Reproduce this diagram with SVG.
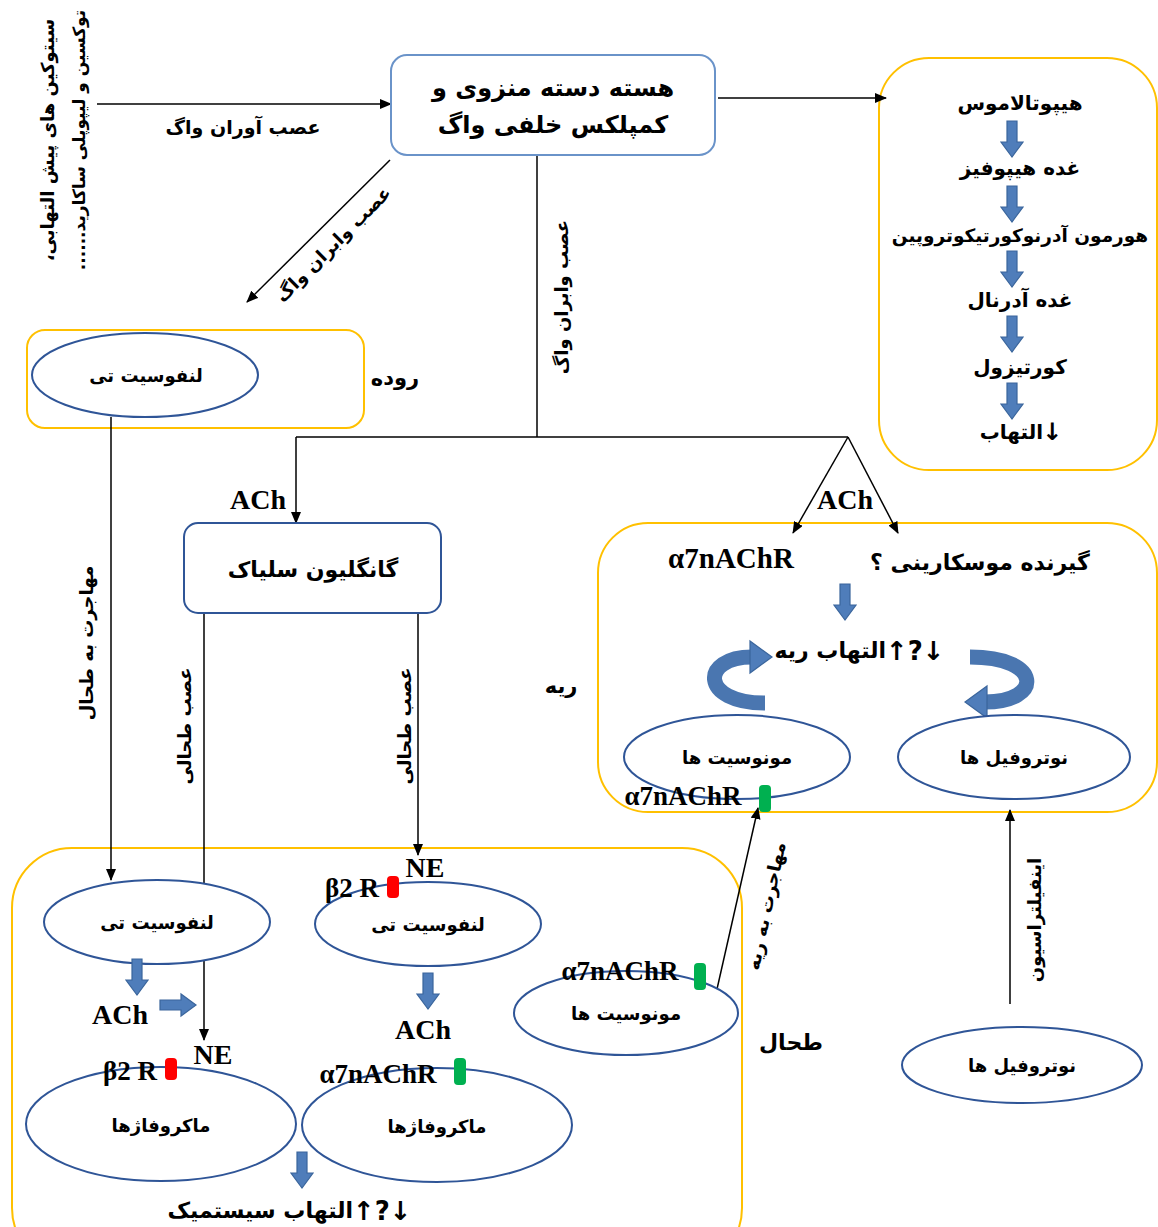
<svg xmlns="http://www.w3.org/2000/svg" width="1158" height="1227" viewBox="0 0 1158 1227">
<style>
.fa{font-family:"DejaVu Sans",sans-serif;font-weight:bold;fill:#000;text-anchor:middle;direction:rtl}
.fe{font-family:"DejaVu Sans",sans-serif;font-weight:bold;fill:#000;text-anchor:end;direction:ltr}
.sym{font-family:"DejaVu Sans",sans-serif;font-weight:bold;fill:#000;text-anchor:start;direction:ltr}
.lat{font-family:"Liberation Serif",serif;font-weight:bold;fill:#000;text-anchor:middle}
.yel{fill:none;stroke:#ffc000;stroke-width:2}
.cell{fill:#fff;stroke:#2f5597;stroke-width:2}
.nodebox{fill:#fff;stroke:#2f5597;stroke-width:2}
.topbox{fill:#fff;stroke:#6a93c9;stroke-width:2}
.ln{fill:none;stroke:#000;stroke-width:1.5}
.arw{marker-end:url(#ah)}
.blk{fill:#4f7dba;stroke:#3a659c;stroke-width:1.2}
.rib{fill:none;stroke:#4a76b0;stroke-width:15}
.red{fill:#ff0000}
.grn{fill:#00b050}
</style>
<defs>
<marker id="ah" markerWidth="12" markerHeight="10" refX="11" refY="5" orient="auto" markerUnits="userSpaceOnUse">
<path d="M0,0 L12,5 L0,10 Z" fill="#000"/>
</marker>
<path id="bdown" d="M-5,0 H5 V21 H11 L0,36 L-11,21 H-5 Z"/>
</defs>

<!-- containers -->
<g id="hpa-region"><rect class="yel" x="879" y="58" width="278" height="412" rx="50"/></g>
<g id="gut-region"><rect class="yel" x="27" y="330" width="337" height="98" rx="18"/>
<text class="fa" x="395" y="385" font-size="21">روده</text></g>
<g id="lung-region"><rect class="yel" x="598" y="523" width="559" height="289" rx="50"/>
<text class="fa" x="561" y="693" font-size="21">ریه</text></g>
<g id="spleen-region"><rect class="yel" x="12" y="848" width="730" height="420" rx="60"/>
<text class="fa" x="791" y="1050" font-size="22">طحال</text></g>

<!-- connectors -->
<g id="connectors">
<line class="ln arw" x1="97" y1="104" x2="391" y2="104"/>
<line class="ln arw" x1="718" y1="98" x2="886" y2="98"/>
<line class="ln arw" x1="390" y1="160" x2="247" y2="302"/>
<line class="ln" x1="537" y1="155" x2="537" y2="437"/>
<line class="ln" x1="296" y1="437" x2="848" y2="437"/>
<line class="ln arw" x1="296" y1="437" x2="296" y2="523"/>
<line class="ln arw" x1="848" y1="437" x2="793" y2="533"/>
<line class="ln arw" x1="848" y1="437" x2="898" y2="533"/>
<line class="ln arw" x1="111" y1="417" x2="111" y2="880"/>
<line class="ln arw" x1="204" y1="613" x2="204" y2="1040"/>
<line class="ln arw" x1="418" y1="613" x2="418" y2="855"/>
<line class="ln arw" x1="710" y1="1020" x2="758" y2="808"/>
<line class="ln arw" x1="1010" y1="1004" x2="1010" y2="810"/>
</g>

<!-- connector labels -->
<g id="labels">
<text class="fa" font-size="18" transform="translate(47,140) rotate(-90)" dominant-baseline="central">سیتوکین های پیش التهابی،</text>
<text class="fa" font-size="17" transform="translate(79,140) rotate(-90)" dominant-baseline="central">توکسین و لیپوپلی ساکارید......</text>
<text class="fa" x="243" y="134" font-size="19">عصب آوران واگ</text>
<text class="fa" font-size="18" transform="translate(333,244) rotate(-45)" dominant-baseline="central">عصب وابران واگ</text>
<text class="fa" font-size="18" transform="translate(561,297) rotate(-90)" dominant-baseline="central">عصب وابران واگ</text>
<text class="lat" x="258" y="509" font-size="28">ACh</text>
<text class="lat" x="845" y="509" font-size="28">ACh</text>
<text class="fa" font-size="18" transform="translate(86,643) rotate(-90)" dominant-baseline="central">مهاجرت به طحال</text>
<text class="fa" font-size="18" transform="translate(184,726) rotate(-90)" dominant-baseline="central">عصب طحالی</text>
<text class="fa" font-size="18" transform="translate(404,726) rotate(-90)" dominant-baseline="central">عصب طحالی</text>
<text class="fa" font-size="18" transform="translate(766,906) rotate(-78)" dominant-baseline="central">مهاجرت به ریه</text>
<text class="fa" font-size="18" transform="translate(1034,920) rotate(-90)" dominant-baseline="central">اینفیلتراسیون</text>
</g>

<!-- top node -->
<g id="node-nts">
<rect class="topbox" x="391" y="55" width="324" height="100" rx="16"/>
<text class="fa" x="553" y="96" font-size="24">هسته دسته منزوی و</text>
<text class="fa" x="553" y="133" font-size="24">کمپلکس خلفی واگ</text>
</g>

<!-- HPA chain -->
<g id="node-hpa">
<text class="fa" x="1020" y="110" font-size="20">هیپوتالاموس</text>
<use href="#bdown" class="blk" x="1012" y="121"/>
<text class="fa" x="1020" y="175" font-size="20">غده هیپوفیز</text>
<use href="#bdown" class="blk" x="1012" y="186"/>
<text class="fa" x="1020" y="242" font-size="18.5">هورمون آدرنوکورتیکوتروپین</text>
<use href="#bdown" class="blk" x="1012" y="251"/>
<text class="fa" x="1020" y="307" font-size="20">غده آدرنال</text>
<use href="#bdown" class="blk" x="1012" y="316"/>
<text class="fa" x="1020" y="374" font-size="20">کورتیزول</text>
<use href="#bdown" class="blk" x="1012" y="383"/>
<text class="fe" x="1043" y="439" font-size="20">التهاب</text>
<text class="sym" x="1042" y="440" font-size="24">↓</text>
</g>

<!-- gut -->
<g id="node-gut-tcell">
<ellipse class="cell" cx="145" cy="375" rx="113" ry="42"/>
<text class="fa" x="146" y="382" font-size="18">لنفوسیت تی</text>
</g>

<!-- celiac ganglion -->
<g id="node-celiac">
<rect class="nodebox" x="184" y="523" width="257" height="90" rx="14"/>
<text class="fa" x="313" y="577" font-size="22">گانگلیون سلیاک</text>
</g>

<!-- lung -->
<g id="node-lung">
<text class="lat" x="731" y="568" font-size="29">α7nAChR</text>
<text class="fa" x="980" y="570" font-size="22">گیرنده موسکارینی ؟</text>
<use href="#bdown" class="blk" x="845" y="584"/>
<text class="fe" x="886" y="658" font-size="22">التهاب ریه</text>
<text class="sym" x="886" y="660" font-size="26">↑?↓</text>
<path class="rib" d="M765,703 C700,703 700,657 752,657"/>
<path class="blk" d="M750,641 L772,657 L750,673 Z"/>
<path class="rib" d="M970,657 C1043,657 1043,702 985,702"/>
<path class="blk" d="M987,686 L965,702 L987,718 Z"/>
</g>
<g id="node-lung-monocytes">
<ellipse class="cell" cx="737" cy="757" rx="113" ry="42"/>
<text class="fa" x="737" y="764" font-size="18">مونوسیت ها</text>
<text class="lat" x="683" y="805" font-size="27">α7nAChR</text>
<rect class="grn" x="759" y="785" width="12" height="27" rx="4"/>
</g>
<g id="node-lung-neutrophils">
<ellipse class="cell" cx="1014" cy="757" rx="116" ry="42"/>
<text class="fa" x="1014" y="764" font-size="18">نوتروفیل ها</text>
</g>

<!-- spleen -->
<g id="node-spleen-tcell1">
<ellipse class="cell" cx="157" cy="922" rx="113" ry="42"/>
<text class="fa" x="157" y="929" font-size="18">لنفوسیت تی</text>
</g>
<g id="node-spleen-tcell2">
<ellipse class="cell" cx="428" cy="924" rx="113" ry="42"/>
<text class="fa" x="428" y="931" font-size="18">لنفوسیت تی</text>
<text class="lat" x="352" y="897" font-size="27">β2 R</text>
<rect class="red" x="387" y="876" width="12" height="22" rx="4"/>
<text class="lat" x="425" y="877" font-size="28">NE</text>
</g>
<g id="node-spleen-ach1">
<use href="#bdown" class="blk" x="137" y="959"/>
<text class="lat" x="120" y="1024" font-size="28">ACh</text>
<use href="#bdown" class="blk" transform="translate(160,1005) rotate(-90)"/>
<text class="lat" x="213" y="1064" font-size="28">NE</text>
</g>
<g id="node-spleen-macro1">
<ellipse class="cell" cx="161" cy="1124" rx="135" ry="57"/>
<text class="fa" x="161" y="1132" font-size="18">ماکروفاژها</text>
<text class="lat" x="130" y="1080" font-size="27">β2 R</text>
<rect class="red" x="165" y="1058" width="12" height="22" rx="4"/>
</g>
<g id="node-spleen-ach2">
<use href="#bdown" class="blk" x="428" y="973"/>
<text class="lat" x="423" y="1039" font-size="28">ACh</text>
</g>
<g id="node-spleen-macro2">
<ellipse class="cell" cx="437" cy="1125" rx="135" ry="57"/>
<text class="fa" x="437" y="1133" font-size="18">ماکروفاژها</text>
<text class="lat" x="378" y="1083" font-size="27">α7nAChR</text>
<rect class="grn" x="454" y="1058" width="12" height="27" rx="4"/>
</g>
<g id="node-systemic">
<use href="#bdown" class="blk" x="302" y="1152"/>
<text class="fe" x="353" y="1218" font-size="22">التهاب سیستمیک</text>
<text class="sym" x="353" y="1220" font-size="26">↑?↓</text>
</g>
<g id="node-spleen-monocytes">
<ellipse class="cell" cx="626" cy="1013" rx="112" ry="42"/>
<text class="fa" x="626" y="1020" font-size="18">مونوسیت ها</text>
<text class="lat" x="620" y="980" font-size="27">α7nAChR</text>
<rect class="grn" x="694" y="963" width="12" height="27" rx="4"/>
</g>
<g id="node-blood-neutrophils">
<ellipse class="cell" cx="1022" cy="1065" rx="120" ry="38"/>
<text class="fa" x="1022" y="1072" font-size="18">نوتروفیل ها</text>
</g>
</svg>
